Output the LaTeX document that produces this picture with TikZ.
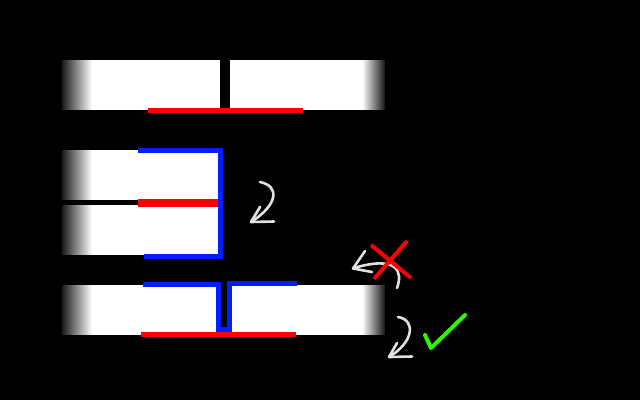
\documentclass[tikz,border=0pt]{standalone}
\newcommand\myLFade[2]{% y0, y1 : left fade 62..93
  \foreach \i in {0,...,30}{%
    \pgfmathtruncatemacro\pp{10+\i*3}%
    \fill[white!\pp!black] (62+\i,#1) rectangle (63.4+\i,#2);}}
\newcommand\myRFade[2]{% y0, y1 : right fade 362..385
  \foreach \i in {0,...,22}{%
    \pgfmathtruncatemacro\pp{100-\i*4}%
    \fill[white!\pp!black] (362+\i,#1) rectangle (363.4+\i,#2);}}
\begin{document}
\begin{tikzpicture}[x=1pt,y=-1pt,
  redl/.style={draw=red,line width=5pt},
  bluel/.style={draw=blueline,line width=5pt},
  hand/.style={draw=handgray,line width=2.6pt,line cap=round,line join=round},
  ]
\definecolor{blueline}{RGB}{0,30,255}
\definecolor{handgray}{RGB}{225,225,225}
\definecolor{checkgreen}{RGB}{40,250,0}
\fill[black] (0,0) rectangle (640,400);
\useasboundingbox (0,0) rectangle (640,400);
% ---- top bar
\fill[white] (92,60) rectangle (363,110);
\myLFade{60}{110}
\myRFade{60}{110}
\fill[black] (220,60) rectangle (230,110);
\draw[redl] (148,110) -- (303,110);
% ---- middle pair
\fill[white] (92,150) rectangle (218,200);
\fill[white] (92,205) rectangle (218,255);
\myLFade{150}{200}
\myLFade{205}{255}
\draw[redl,line width=8pt] (138,202.5) -- (218,202.5);
\draw[bluel] (138,150.5) -- (220.5,150.5) -- (220.5,256) -- (144,256);
% ---- bottom bar
\fill[white] (92,285) rectangle (363,335);
\myLFade{285}{335}
\myRFade{285}{335}
\fill[black] (220,284) rectangle (228,328);
\draw[bluel] (143,284.5) -- (218.5,284.5) -- (218.5,329.5) -- (229.5,329.5) -- (229.5,283.5) -- (297,283.5);
\draw[redl] (141,334.5) -- (296,334.5);
% ---- curved arrow 1
\draw[hand] (260,182) .. controls (280,186) and (278,205) .. (251,222);
\draw[hand] (260,207) -- (251,222) -- (274,221.5);
% ---- crossed arrow
\draw[hand] (397,288) .. controls (403,272) and (398,255) .. (354,268);
\draw[hand] (365,251) -- (353,268.5) -- (372,272);
\draw[red,line width=4pt] (371,245) -- (411,278);
\draw[red,line width=4pt] (407,241) -- (374,279);
% ---- curved arrow 3
\draw[hand] (398,317) .. controls (416,320) and (414,342) .. (389,357);
\draw[hand] (397,343) -- (389,357) -- (412,356.5);
% ---- check
\draw[checkgreen,line width=4pt,line cap=round,line join=round] (425,335) -- (431,348) -- (465,315);
\end{tikzpicture}
\end{document}
